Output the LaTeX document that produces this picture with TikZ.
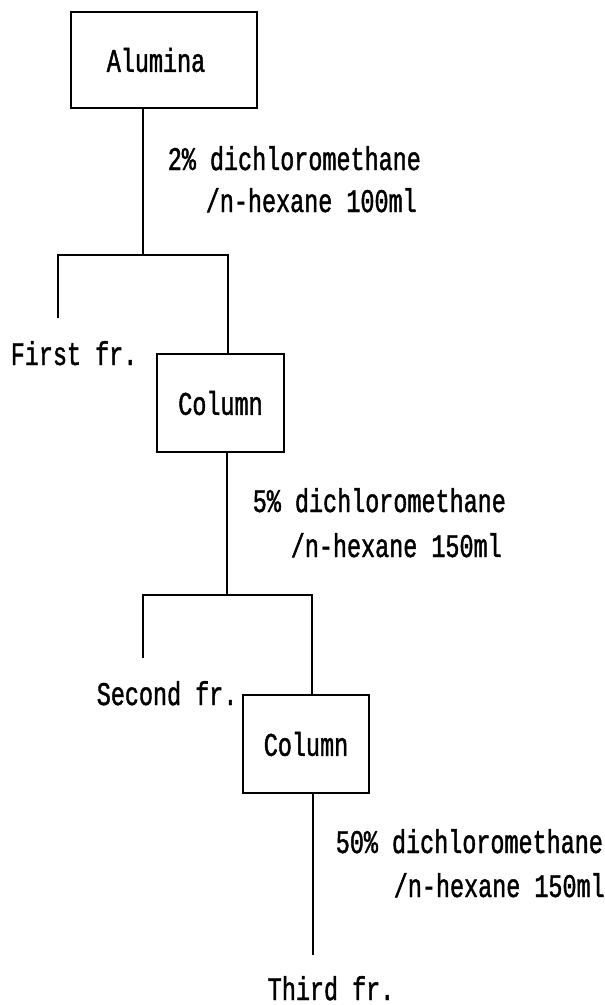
\documentclass[tikz,border=0pt]{standalone}
\usepackage{fontspec}
\newfontfamily\twfont[FakeStretch=0.71,FakeBold=1.3]{Liberation Mono}
\usetikzlibrary{calc}
\begin{document}
\begin{tikzpicture}[x=1pt,y=1pt,line width=1.6pt,
  txt/.style={font=\twfont\fontsize{33}{33}\selectfont},
  box/.style={draw,txt,inner sep=0pt},
  lbl/.style={txt,anchor=base west,inner sep=0pt},
  wire/.style={draw,line width=1.6pt}]
\useasboundingbox (0,0) rectangle (605,-1005);
% boxes
\node[box,minimum width=186pt,minimum height=96pt] (alumina) at (164,-60) {Alumina\hspace*{16pt}};
\node[box,minimum width=127pt,minimum height=98pt] (col1) at (220.5,-403) {Column};
\node[box,minimum width=126pt,minimum height=98pt] (col2) at (306,-744) {Column};
% labels
\node[lbl] (s1a) at (167,-170) {2\% dichloromethane};
\node[lbl] (s1b) at (205,-212) {/n-hexane 100ml};
\node[lbl] (f1) at (10,-365) {First fr.};
\node[lbl] (s2a) at (252,-512) {5\% dichloromethane};
\node[lbl] (s2b) at (290,-557) {/n-hexane 150ml};
\node[lbl] (f2) at (96,-705) {Second fr.};
\node[lbl] (s3a) at (335,-853) {50\% dichloromethane};
\node[lbl] (s3b) at (393,-897) {/n-hexane 150ml};
\node[lbl] (f3) at (267,-1000) {Third fr.};
% junctions
\coordinate (j1) at (143,-255);
\coordinate (j1l) at (58,-255);
\coordinate (j1r) at (228,-255);
\coordinate (e1) at (58,-318);
\coordinate (j2) at (227,-595);
\coordinate (j2l) at (143,-595);
\coordinate (j2r) at (312,-595);
\coordinate (e2) at (143,-658);
\coordinate (e3) at (313,-955);
% connectors
\draw[wire] (alumina.south -| j1) -- (j1);
\draw[wire] (e1) -- (j1l) -- (j1r) -- (col1.north -| j1r);
\draw[wire] (col1.south -| j2) -- (j2);
\draw[wire] (e2) -- (j2l) -- (j2r) -- (col2.north -| j2r);
\draw[wire] (col2.south -| e3) -- (e3);
\end{tikzpicture}
\end{document}
